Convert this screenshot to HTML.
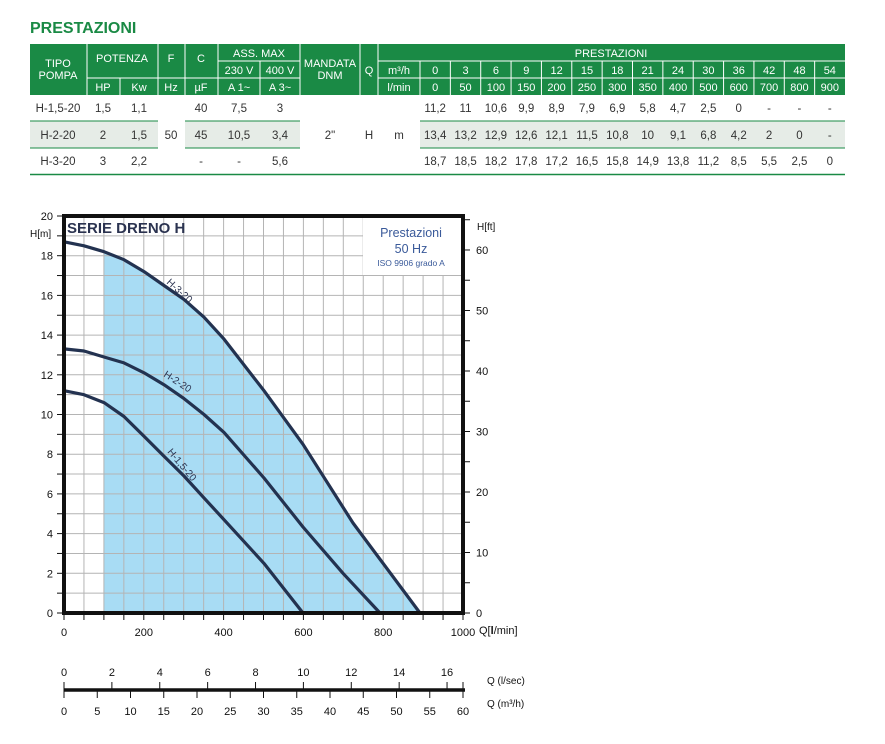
<!DOCTYPE html>
<html><head><meta charset="utf-8"><style>
html,body{margin:0;padding:0;background:#fff;width:885px;height:744px;overflow:hidden}
svg{display:block}
text{font-family:"Liberation Sans",sans-serif}
</style></head><body>
<svg width="885" height="744" viewBox="0 0 885 744" xmlns="http://www.w3.org/2000/svg">
<text x="30" y="33" font-size="16" font-weight="bold" fill="#1a8a45">PRESTAZIONI</text>
<rect x="30" y="44" width="815" height="51" fill="#1a8a45"/>
<rect x="30" y="95" width="815" height="26" fill="#fff"/>
<rect x="30" y="121" width="128" height="27" fill="#e6ece7"/>
<rect x="185" y="121" width="115" height="27" fill="#e6ece7"/>
<rect x="420" y="121" width="425" height="27" fill="#e6ece7"/>
<g stroke="#fff" stroke-width="1">
<line x1="87" y1="44" x2="87" y2="95"/><line x1="120" y1="78" x2="120" y2="95"/><line x1="158" y1="44" x2="158" y2="95"/>
<line x1="185" y1="44" x2="185" y2="95"/><line x1="218" y1="44" x2="218" y2="95"/><line x1="260" y1="61" x2="260" y2="95"/>
<line x1="300" y1="44" x2="300" y2="95"/><line x1="360" y1="44" x2="360" y2="95"/><line x1="378" y1="44" x2="378" y2="95"/>
<line x1="218" y1="61" x2="300" y2="61"/><line x1="378" y1="61" x2="845" y2="61"/>
<line x1="87" y1="78" x2="300" y2="78"/><line x1="378" y1="78" x2="845" y2="78"/>
<line x1="420" y1="61" x2="420" y2="95"/>
</g>
<g stroke="#fff" stroke-width="1" id="vl"></g>
<g stroke="#1a8a45" stroke-width="1">
<line x1="30" y1="121" x2="158" y2="121"/><line x1="185" y1="121" x2="300" y2="121"/><line x1="420" y1="121" x2="845" y2="121"/>
<line x1="30" y1="148" x2="158" y2="148"/><line x1="185" y1="148" x2="300" y2="148"/><line x1="420" y1="148" x2="845" y2="148"/>
</g>
<line x1="30" y1="174.5" x2="845" y2="174.5" stroke="#1a8a45" stroke-width="1.5"/>
<g font-size="11" fill="#fff" text-anchor="middle">
<text x="58" y="67">TIPO</text><text x="58" y="79">POMPA</text>
<text x="122" y="62">POTENZA</text><text x="171" y="62">F</text><text x="201" y="62">C</text>
<text x="259" y="57">ASS. MAX</text><text x="330" y="67">MANDATA</text><text x="330" y="79">DNM</text>
<text x="369" y="74">Q</text><text x="611" y="57">PRESTAZIONI</text>
<text x="239" y="74">230 V</text><text x="280" y="74">400 V</text><text x="399" y="74">m³/h</text>
<text x="103" y="91">HP</text><text x="139" y="91">Kw</text><text x="171" y="91">Hz</text><text x="201" y="91">µF</text>
<text x="239" y="91">A 1~</text><text x="280" y="91">A 3~</text><text x="399" y="91">l/min</text>
</g>
<g font-size="11.5" fill="#333" text-anchor="middle">
<text x="58" y="112">H-1,5-20</text><text x="103" y="112">1,5</text><text x="139" y="112">1,1</text><text x="201" y="112">40</text><text x="239" y="112">7,5</text><text x="280" y="112">3</text>
<text x="58" y="139">H-2-20</text><text x="103" y="139">2</text><text x="139" y="139">1,5</text><text x="171" y="139">50</text><text x="201" y="139">45</text><text x="239" y="139">10,5</text><text x="280" y="139">3,4</text><text x="330" y="139">2"</text><text x="369" y="139">H</text><text x="399" y="139">m</text>
<text x="58" y="165">H-3-20</text><text x="103" y="165">3</text><text x="139" y="165">2,2</text><text x="201" y="165">-</text><text x="239" y="165">-</text><text x="280" y="165">5,6</text>
</g>
<g id="cols" font-size="11.5" text-anchor="middle"></g>

<polygon points="104,613 104,251.7 124,259.7 144,271.6 164,285.5 184,299.4 204,317.2 224,339.1 264,390.7 303,444.3 353,523 420,613" fill="#a8dcf4"/>
<g id="grid" stroke="#b4b4b4" stroke-width="1"></g>
<rect x="363" y="218" width="98" height="57" fill="#fff"/>
<text x="411" y="237" font-size="12.5" fill="#3a5a9a" text-anchor="middle">Prestazioni</text>
<text x="411" y="253" font-size="12.5" fill="#3a5a9a" text-anchor="middle">50 Hz</text>
<text x="411" y="266" font-size="8.5" fill="#3a5a9a" text-anchor="middle">ISO 9906 grado A</text>
<text x="67" y="233" font-size="15" font-weight="bold" fill="#2b3350">SERIE DRENO H</text>
<g fill="none" stroke="#233250" stroke-width="3.2" stroke-linejoin="round" stroke-linecap="round">
<polyline points="64,241.8 84,245.8 104,251.7 124,259.7 144,271.6 164,285.5 184,299.4 204,317.2 224,339.1 264,390.7 303,444.3 353,523 420,613"/>
<polyline points="64,348.9 84,351 104,357 124,362.9 144,372.8 164,384.7 184,398.6 204,414.5 224,432.4 264,478 303,527 343,573.3 380,613"/>
<polyline points="64,390.7 84,394.7 104,402.6 124,416.5 144,436.3 164,456.2 184,476 204,497.9 224,519.7 264,563.4 303,613"/>
</g>
<g font-size="10" fill="#2b3350">
<text transform="translate(166,283) rotate(42)">H-3-20</text>
<text transform="translate(163,376) rotate(33)">H-2-20</text>
<text transform="translate(167,452) rotate(50)">H-1,5-20</text>
</g>
<rect x="64" y="216" width="399" height="397" fill="none" stroke="#111" stroke-width="4"/>
<g id="axes" stroke="#111" stroke-width="1"></g>
<g id="lbl" font-size="11" fill="#111"></g>
<text x="30" y="237" font-size="10" fill="#111">H[m]</text>
<text x="477" y="230" font-size="10" fill="#111">H[ft]</text>
<text x="479" y="634" font-size="11" fill="#111">Q[<tspan font-weight="bold">l</tspan>/min]</text>
<line x1="64" y1="690" x2="465" y2="690" stroke="#111" stroke-width="3.5"/>
<text x="487" y="684" font-size="10" fill="#111">Q (l/sec)</text>
<text x="487" y="707" font-size="10" fill="#111">Q (m³/h)</text>
</svg>
<script>
var NS="http://www.w3.org/2000/svg";
function el(p,t,a,txt){var e=document.createElementNS(NS,t);for(var k in a)e.setAttribute(k,a[k]);if(txt!==undefined)e.textContent=txt;document.getElementById(p).appendChild(e);}
var w=(845-420)/14,cols=[["0","0","11,2","13,4","18,7"],["3","50","11","13,2","18,5"],["6","100","10,6","12,9","18,2"],["9","150","9,9","12,6","17,8"],["12","200","8,9","12,1","17,2"],["15","250","7,9","11,5","16,5"],["18","300","6,9","10,8","15,8"],["21","350","5,8","10","14,9"],["24","400","4,7","9,1","13,8"],["30","500","2,5","6,8","11,2"],["36","600","0","4,2","8,5"],["42","700","-","2","5,5"],["48","800","-","0","2,5"],["54","900","-","-","0"]];
for(var i=0;i<14;i++){var cx=420+w*(i+0.5);
 if(i>0)el("vl","line",{x1:420+w*i,y1:61,x2:420+w*i,y2:95});
 el("cols","text",{x:cx,y:74,fill:"#fff","font-size":"11"},cols[i][0]);
 el("cols","text",{x:cx,y:91,fill:"#fff","font-size":"11"},cols[i][1]);
 el("cols","text",{x:cx,y:112,fill:"#333"},cols[i][2]);
 el("cols","text",{x:cx,y:139,fill:"#333"},cols[i][3]);
 el("cols","text",{x:cx,y:165,fill:"#333"},cols[i][4]);}
for(var i=1;i<20;i++)el("grid","line",{x1:64+i*19.95,y1:216,x2:64+i*19.95,y2:613});
for(var i=1;i<20;i++)el("grid","line",{x1:64,y1:613-i*19.85,x2:463,y2:613-i*19.85});
for(var i=0;i<=20;i++){var y=613-i*19.85;el("axes","line",{x1:57,y1:y,x2:64,y2:y});if(i%2==0)el("lbl","text",{x:53,y:y+4,"text-anchor":"end"},""+i);}
for(var f=0;f<=65;f+=5){var y=613-f*0.3048*19.85;if(y<216)break;el("axes","line",{x1:463,y1:y,x2:470,y2:y});if(f%10==0)el("lbl","text",{x:476,y:y+4},""+f);}
for(var q=0;q<=1000;q+=50){var x=64+q*0.399;el("axes","line",{x1:x,y1:613,x2:x,y2:620});if(q%200==0)el("lbl","text",{x:x,y:636,"text-anchor":"middle"},""+q);}
for(var s=0;s<=16;s+=2){var x=64+s*60*0.399;el("axes","line",{x1:x,y1:682,x2:x,y2:690});el("lbl","text",{x:x,y:676,"text-anchor":"middle"},""+s);}
el("axes","line",{x1:463,y1:682,x2:463,y2:690});
for(var m=0;m<=60;m+=5){var x=64+m*16.667*0.399;el("axes","line",{x1:x,y1:690,x2:x,y2:698});el("lbl","text",{x:x,y:715,"text-anchor":"middle"},""+m);}
</script>
</body></html>
